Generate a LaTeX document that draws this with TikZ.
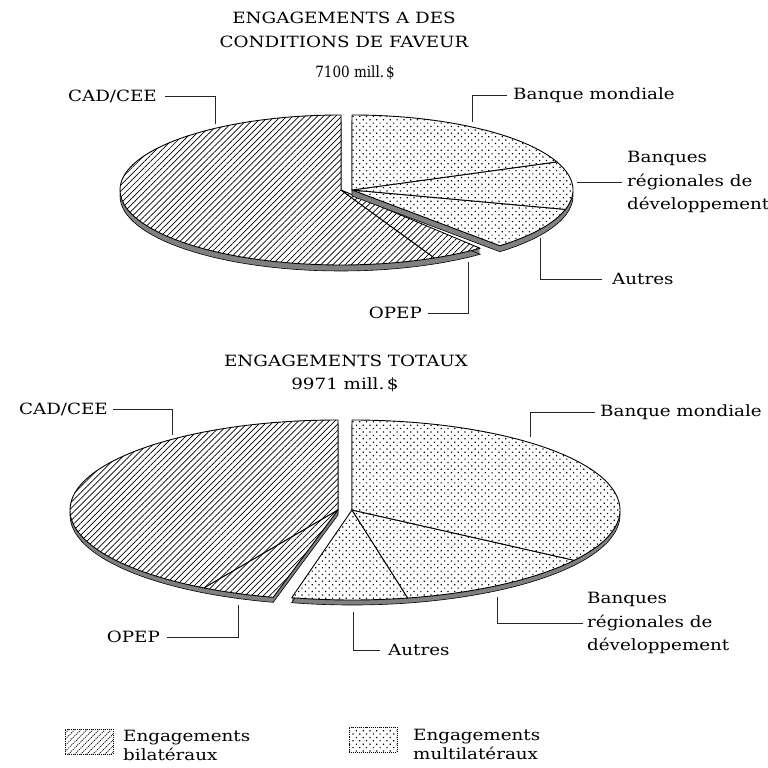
\documentclass[tikz,border=0pt]{standalone}
\usepackage{fontspec}
\setmainfont{DejaVu Serif}[FakeStretch=1.18]
\usetikzlibrary{patterns.meta}
\tikzset{
  wall/.style={fill=black!50},
  hatch/.style={preaction={fill=white}, pattern={Lines[angle=45,distance=4.3pt,line width=0.7pt]}, draw=black, line width=0.9pt, line join=round},
  dots/.style={preaction={fill=white}, pattern={Dots[angle=45,distance=4.8pt,radius=0.85pt]}, draw=black, line width=0.9pt, line join=round},
  lbl/.style={inner sep=0pt, font=\fontsize{15.5}{23.5}\selectfont},
  leader/.style={draw=black!85, line width=0.7pt},
  legbox/.style={minimum width=48pt, minimum height=25pt, inner sep=0pt, line width=0.6pt, dash pattern=on 1pt off 1pt},
}
\newcommand\pieSide[7]{%
  \foreach \k in {1,...,#7}{%
    \fill[wall,yshift=-\k pt] (#1,#2) -- ++(#3:#5 and #6) arc[start angle=#3,end angle=#4,x radius=#5,y radius=#6] -- cycle;}%
  \draw[black,line width=0.6pt,yshift=-#7pt] (#1,#2) -- ++(#3:#5 and #6) arc[start angle=#3,end angle=#4,x radius=#5,y radius=#6] -- cycle;}
\newcommand\pieFace[7]{%
  \path[#7] (#1,#2) -- ++(#3:#5 and #6) arc[start angle=#3,end angle=#4,x radius=#5,y radius=#6] -- cycle;}
\begin{document}
\begin{tikzpicture}[x=1pt,y=1pt]
\fill[white] (0,0) rectangle (768,768);
\useasboundingbox (0,0) rectangle (768,768);

% ---------- top pie ----------
\pieSide{341}{578}{90}{309}{221}{75}{6}
\pieFace{341}{578}{90}{295}{221}{75}{hatch}
\pieFace{341}{578}{295}{309}{221}{75}{hatch}
\pieSide{352}{578}{-48}{90}{221}{75}{6}
\pieFace{352}{578}{-48}{-15}{221}{75}{dots}
\pieFace{352}{578}{-15}{22}{221}{75}{dots}
\pieFace{352}{578}{22}{90}{221}{75}{dots}

\node[lbl, align=center, font=\fontsize{15.5}{24}\selectfont] (t1) at (344,738) {ENGAGEMENTS A DES\\CONDITIONS DE FAVEUR};
\node[lbl] (t1v) at (355,695) {\scalebox{0.74}[1]{7100 mill.\,\$}};

\node[lbl, anchor=east] (cadA) at (157,672) {CAD/CEE};
\coordinate (cadAp) at (215,644);
\draw[leader] ([xshift=8pt]cadA.east) -| (cadAp);

\node[lbl, anchor=west] (bmA) at (513,673) {Banque mondiale};
\coordinate (bmAp) at (472,646);
\draw[leader] ([xshift=-6pt]bmA.west) -| (bmAp);

\node[lbl, anchor=west, align=left] (brA) at (627,586) {Banques\\régionales de\\développement};
\coordinate (brAp) at (577,586);
\draw[leader] ([xshift=-5pt]brA.west) -- (brAp);

\node[lbl, anchor=west] (auA) at (612,489) {Autres};
\coordinate (auAp) at (540,530);
\draw[leader] ([xshift=-10pt]auA.west) -| (auAp);

\node[lbl, anchor=east] (opA) at (422,455) {OPEP};
\coordinate (opAp) at (468,506);
\draw[leader] ([xshift=6pt]opA.east) -| (opAp);

% ---------- bottom pie ----------
\pieSide{338}{258}{90}{256}{268}{90}{5}
\pieFace{338}{258}{90}{240}{268}{90}{hatch}
\pieFace{338}{258}{240}{256}{268}{90}{hatch}
\pieSide{352}{258}{-103}{90}{268}{90}{5}
\pieFace{352}{258}{-103}{-78}{268}{90}{dots}
\pieFace{352}{258}{-78}{-34}{268}{90}{dots}
\pieFace{352}{258}{-34}{90}{268}{90}{dots}

\node[lbl] (t2) at (346,407) {ENGAGEMENTS TOTAUX};
\node[lbl] (t2v) at (345,383) {9971 mill.\,\$};

\node[lbl, anchor=east] (cadB) at (108,359) {CAD/CEE};
\coordinate (cadBp) at (172,333);
\draw[leader] ([xshift=5pt]cadB.east) -| (cadBp);

\node[lbl, anchor=west] (bmB) at (600,356) {Banque mondiale};
\coordinate (bmBp) at (530,331);
\draw[leader] ([xshift=-5pt]bmB.west) -| (bmBp);

\node[lbl, anchor=west, align=left] (brB) at (587,145) {Banques\\régionales de\\développement};
\coordinate (brBp) at (497,171);
\draw[leader] ([xshift=-4pt]brB.west) -| (brBp);

\node[lbl, anchor=west] (auB) at (388,118) {Autres};
\coordinate (auBp) at (353,156);
\draw[leader] ([xshift=-8pt]auB.west) -| (auBp);

\node[lbl, anchor=east] (opB) at (160,131) {OPEP};
\coordinate (opBp) at (238,163);
\draw[leader] ([xshift=7pt]opB.east) -| (opBp);

% ---------- legend ----------
\node[legbox, hatch, line width=0.6pt, dash pattern=on 1pt off 1pt] (lgA) at (89,26) {};
\node[lbl, anchor=west, align=left, font=\fontsize{15.5}{19}\selectfont] (lgAt) at (123,23) {Engagements\\bilatéraux};
\node[legbox, dots, line width=0.6pt, dash pattern=on 1pt off 1pt] (lgB) at (373,28) {};
\node[lbl, anchor=west, align=left, font=\fontsize{15.5}{19}\selectfont] (lgBt) at (413,24) {Engagements\\multilatéraux};
\end{tikzpicture}
\end{document}
